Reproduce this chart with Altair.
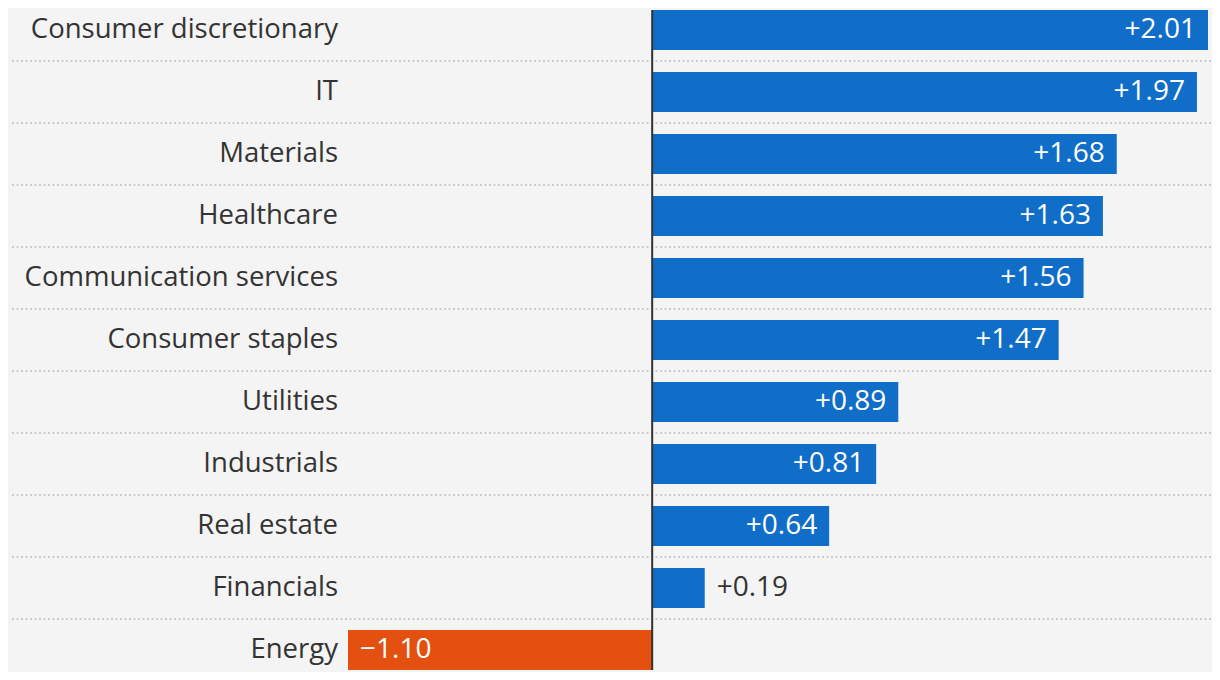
import altair as alt
import pandas as pd

categories = ["Consumer discretionary", "IT", "Materials", "Healthcare",
              "Communication services", "Consumer staples", "Utilities",
              "Industrials", "Real estate", "Financials", "Energy"]
values = [2.01, 1.97, 1.68, 1.63, 1.56, 1.47, 0.89, 0.81, 0.64, 0.19, -1.10]

def fmt(v):
    return ("+" if v >= 0 else "\u2212") + f"{abs(v):.2f}"

df = pd.DataFrame({
    "cat": categories,
    "val": values,
    "label": [fmt(v) for v in values],
    "color": ["#e3500f" if v < 0 else "#106dc8" for v in values],
})
df["place"] = ["neg" if v < 0 else ("in" if v >= 0.5 else "out") for v in values]

FONT = "Open Sans"
BG = "#f4f4f4"
W, H = 1204, 664

yscale = alt.Scale(domain=categories, range=[2, 662], paddingInner=22 / 62, paddingOuter=0)
xscale = alt.Scale(domain=[-1.10, 2.01], range=[340, 1200], nice=False, zero=False)

Y = alt.Y("cat:N", scale=yscale, axis=None, sort=categories)
X = alt.X("val:Q", scale=xscale, axis=None)

base = alt.Chart(df)

seps = alt.Chart(df.iloc[:-1]).mark_rule(
    color="#cccccc", strokeWidth=2, strokeDash=[2, 2.5]
).encode(
    y=alt.Y("cat:N", scale=yscale, axis=None, sort=categories),
    yOffset=alt.value(51),
    x=alt.value(4),
    x2=alt.value(W),
)

bars = base.mark_bar().encode(
    y=Y, x=X, x2=alt.datum(0),
    color=alt.Color("color:N", scale=None),
)

zero = alt.Chart(pd.DataFrame({"z": [0]})).mark_rule(color="#333333", strokeWidth=2).encode(
    x=alt.X("z:Q", scale=xscale, axis=None),
    y=alt.value(2), y2=alt.value(662),
)

cat_labels = base.mark_text(
    align="right", baseline="middle", font=FONT, fontSize=27.5, color="#333333"
).encode(
    y=alt.Y("cat:N", scale=yscale, axis=None, sort=categories, bandPosition=0.5),
    x=alt.value(330),
    text="cat:N",
)

def val_layer(place, align, dx, color):
    return base.transform_filter(alt.datum.place == place).mark_text(
        align=align, baseline="middle", dx=dx, font=FONT, fontSize=28, color=color
    ).encode(
        y=alt.Y("cat:N", scale=yscale, axis=None, sort=categories, bandPosition=0.5),
        x=X,
        text="label:N",
    )

vin = val_layer("in", "right", -12, "white")
vout = val_layer("out", "left", 12, "#333333")
vneg = val_layer("neg", "left", 12, "white")

chart = alt.layer(seps, bars, zero, cat_labels, vin, vout, vneg).properties(
    width=W, height=H,
    autosize=alt.AutoSizeParams(type="none"),
    padding=0,
    background=BG,
).configure_view(stroke=None)

chart.save("out.html", embed_options={"renderer": "svg", "actions": False})
